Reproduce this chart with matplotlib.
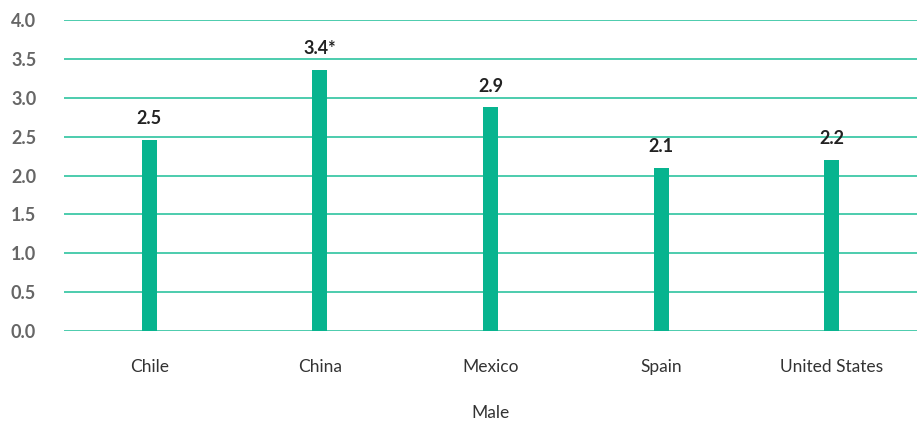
import matplotlib
matplotlib.use('Agg')
from matplotlib import pyplot as plt

countries = ['Chile', 'China', 'Mexico', 'Spain', 'United States']
values = [2.46, 3.36, 2.88, 2.1, 2.2]
labels = ['2.5', '3.4*', '2.9', '2.1', '2.2']
y_ticks = [0.0, 0.5, 1.0, 1.5, 2.0, 2.5, 3.0, 3.5, 4.0]

plt.rcParams['font.family'] = ['Lato', 'DejaVu Sans']

fig = plt.figure(figsize=(9.17, 4.22), dpi=100)
ax = fig.add_axes([0.0698, 0.2156, 0.9302, 0.737])

green = '#07b48f'
x = list(range(len(countries)))
ax.bar(x, values, width=0.088, color=green, zorder=3)

for xi, v, lab in zip(x, values, labels):
    ax.annotate(lab, (xi, v), xytext=(0, 9), textcoords='offset points',
                ha='center', va='bottom', fontsize=13, fontweight='bold',
                color='#222222')

ax.set_xlim(-0.5, 4.5)
ax.set_ylim(0, 4.0)
ax.set_yticks(y_ticks)
ax.set_yticklabels([f'{t:.1f}' for t in y_ticks], fontsize=13,
                   fontweight='bold', color='#666666')
ax.set_xticks(x)
ax.set_xticklabels(countries, fontsize=12.5, color='#333333')
ax.tick_params(axis='both', length=0)
ax.tick_params(axis='y', pad=20)
ax.tick_params(axis='x', pad=20)

ax.grid(axis='y', color='#2ec4a0', linewidth=1.2, zorder=0)
for s in ax.spines.values():
    s.set_visible(False)

ax.set_xlabel('Male', fontsize=12.5, color='#333333', labelpad=22)

fig.savefig('out.png', dpi=100)
